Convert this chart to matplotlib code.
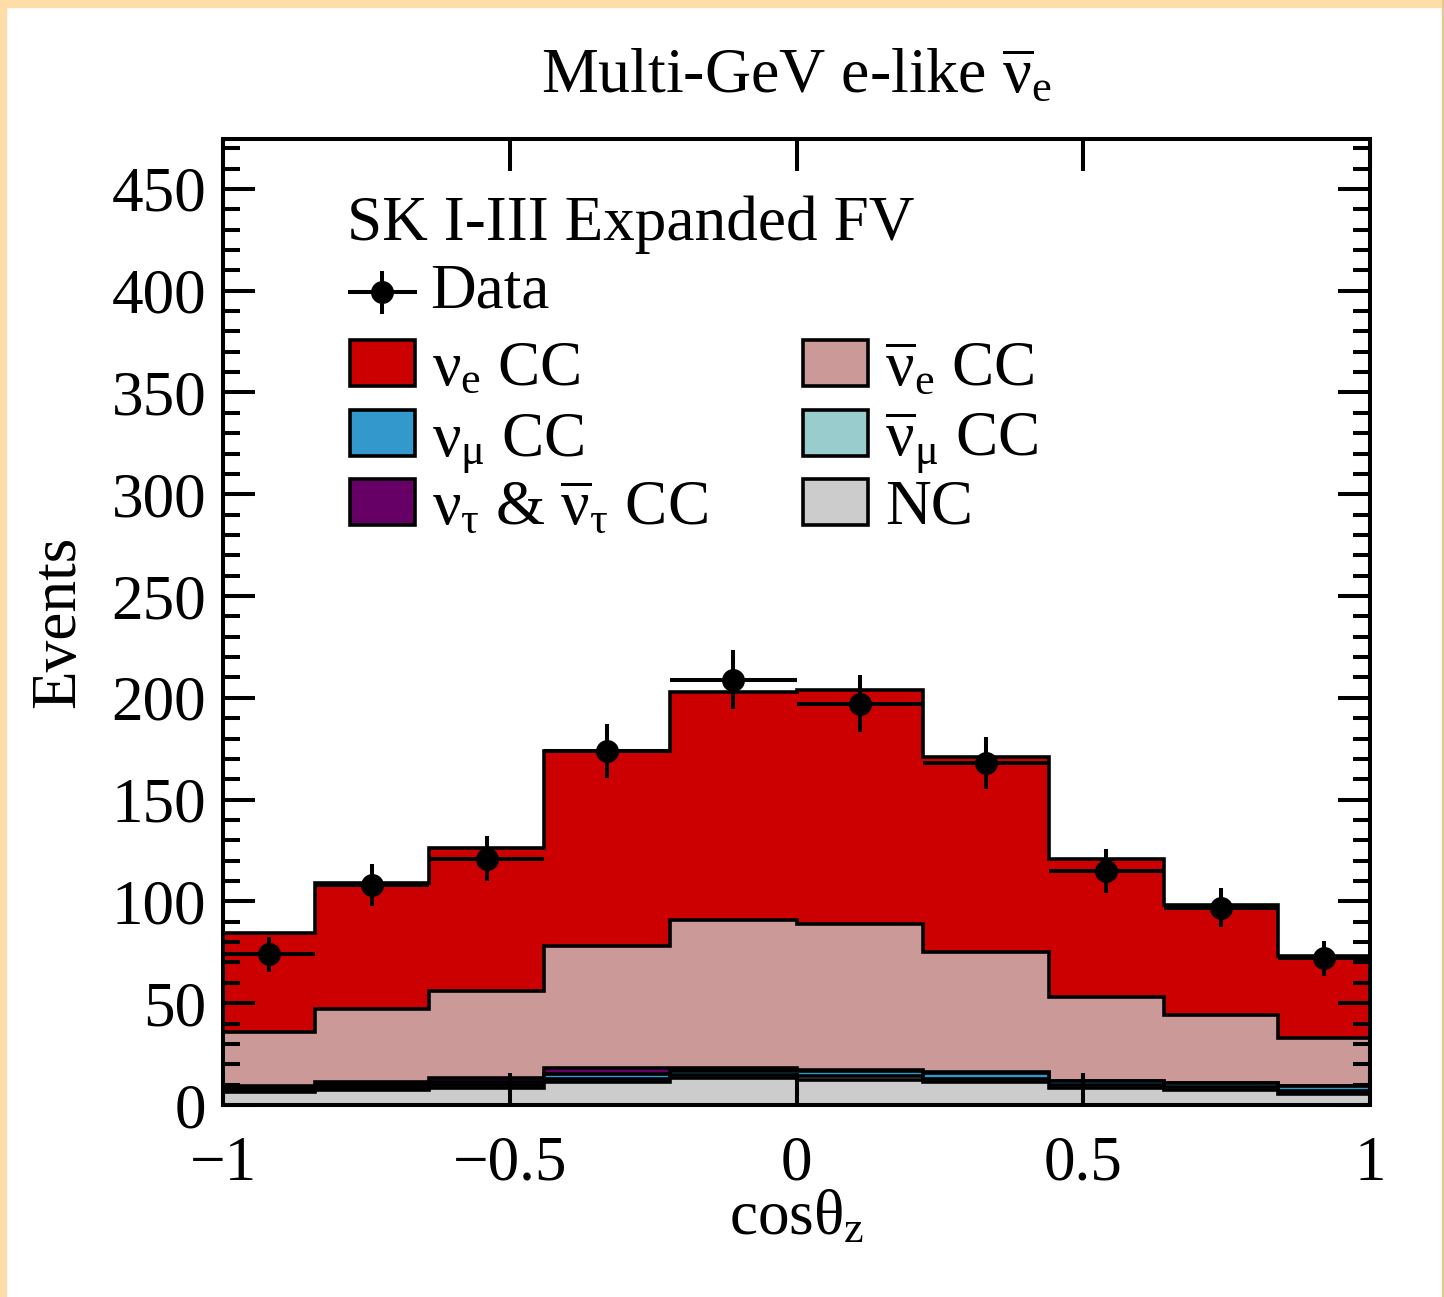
import matplotlib
matplotlib.use("Agg")
import matplotlib.pyplot as plt
import numpy as np
from matplotlib.patches import Rectangle
from matplotlib.lines import Line2D

plt.rcParams['font.family'] = ['Liberation Serif', 'DejaVu Serif']
plt.rcParams['mathtext.fontset'] = 'custom'
plt.rcParams['mathtext.rm'] = 'Liberation Serif'
plt.rcParams['mathtext.it'] = 'Liberation Serif'
plt.rcParams['mathtext.bf'] = 'Liberation Serif:bold'

# ---------------- data ----------------
bin_edges = [-1.0, -0.84, -0.64, -0.44, -0.22, 0.0, 0.22, 0.44, 0.64, 0.84, 1.0]
nc       = [6.5, 7.5, 8.5, 11.5, 13.5, 12.5, 11.5, 8.5, 7.5, 5.5]
numubar  = [0.8, 1.0, 1.2, 1.3, 1.2, 1.5, 1.5, 1.3, 1.4, 1.5]
numu     = [1.2, 1.5, 1.8, 2.2, 1.8, 2.5, 2.7, 2.0, 2.0, 2.4]
nutau    = [1.0, 1.5, 2.0, 3.0, 1.5, 0.5, 0.3, 0.2, 0.1, 0.1]
nuebar   = [26.5, 35.5, 42.5, 60.0, 73.0, 72.0, 59.0, 41.0, 33.0, 23.5]
nue      = [48.5, 62.0, 70.0, 96.0, 112.0, 115.0, 96.0, 68.0, 54.0, 40.0]
data_x   = [-0.92, -0.74, -0.54, -0.33, -0.11, 0.11, 0.33, 0.54, 0.74, 0.92]
data_y   = [74, 108, 121, 174, 209, 197, 168, 115, 97, 72]
data_err = [8.6, 10.4, 11.0, 13.2, 14.5, 14.0, 13.0, 10.7, 9.8, 8.5]

x_ticks = [-1, -0.5, 0, 0.5, 1]
x_ticklabels = ['\u22121', '\u22120.5', '0', '0.5', '1']
y_ticks = [0, 50, 100, 150, 200, 250, 300, 350, 400, 450]

title = r'Multi-GeV e-like $\overline{\nu}_{e}$'
x_label = r'cos$\theta_{z}$'
y_label = 'Events'
header = 'SK I-III Expanded FV'

layers = [  # bottom to top
    ('NC', nc, '#CCCCCC'),
    (r'$\overline{\nu}_{\mu}$ CC', numubar, '#99CCCC'),
    (r'$\nu_{\mu}$ CC', numu, '#3399CC'),
    (r'$\nu_{\tau}$ & $\overline{\nu}_{\tau}$ CC', nutau, '#660066'),
    (r'$\overline{\nu}_{e}$ CC', nuebar, '#CC9999'),
    (r'$\nu_{e}$ CC', nue, '#CC0000'),
]

FS = 45.5

W, H = 1444, 1297
fig = plt.figure(figsize=(W / 100, H / 100), dpi=100)
fig.patch.set_facecolor('white')

# page border
fig.patches.append(Rectangle((0, 0), 6 / W, 1, transform=fig.transFigure, color='#FFDDA8', zorder=0))
fig.patches.append(Rectangle((0, 1 - 7 / H), 1, 7 / H, transform=fig.transFigure, color='#FFDDA8', zorder=0))
fig.patches.append(Rectangle((1 - 2 / W, 0), 2 / W, 1, transform=fig.transFigure, color='#E6C98E', zorder=0))

ax_l, ax_r, ax_t, ax_b = 223, 1370, 139, 1105
ax = fig.add_axes([ax_l / W, 1 - ax_b / H, (ax_r - ax_l) / W, (ax_b - ax_t) / H])

edges = np.array(bin_edges)
cum = np.zeros(len(nc))
cums = []
for name, vals, col in layers:
    cum = cum + np.array(vals)
    cums.append((name, cum.copy(), col))

LW = 2.6
for i, (name, c, col) in enumerate(reversed(cums)):
    z = 1 + i * 0.01
    ax.stairs(c, edges, fill=True, color=col, baseline=0, zorder=z, linewidth=0)
    ax.stairs(c, edges, fill=False, color='black', baseline=None, linewidth=LW, zorder=z + 0.005)

xerr = [(b - a) / 2 for a, b in zip(bin_edges[:-1], bin_edges[1:])]
ax.errorbar(data_x, data_y, xerr=xerr, yerr=data_err, fmt='o', color='black',
            markersize=15.5, elinewidth=2.9, capsize=0, zorder=5)

ax.set_xlim(-1, 1)
ax.set_ylim(0, 474.5)
ax.set_xticks(x_ticks)
ax.set_xticklabels(x_ticklabels)
ax.set_yticks(y_ticks)
ax.set_yticks(np.arange(0, 475, 10), minor=True)
ax.tick_params(axis='both', which='major', direction='in', length=23, width=2.9,
               top=True, right=True, labelsize=FS)
ax.tick_params(axis='y', which='minor', direction='in', length=12, width=2.9,
               left=True, right=True)
ax.tick_params(axis='y', which='major', pad=12)
ax.tick_params(axis='x', which='major', pad=22)
for s in ax.spines.values():
    s.set_linewidth(2.9)
    s.set_zorder(6)

ax.set_xlabel(x_label, fontsize=FS)
ax.xaxis.set_label_coords(0.5, (ax_b - 1190) / (ax_b - ax_t))
ax.set_ylabel(y_label, fontsize=FS)
ax.yaxis.set_label_coords((88 - ax_l) / (ax_r - ax_l), 0.5)
ax.set_title(title, fontsize=FS + 0.5, y=(ax_b - 92) / (ax_b - ax_t), va='baseline', pad=0)

# ---- legend (drawn by hand to match layout) ----
def ax_xy(px, py):
    return ((px - ax_l) / (ax_r - ax_l), (ax_b - py) / (ax_b - ax_t))

tx, ty = ax_xy(347, 240)
ax.text(tx, ty, header, transform=ax.transAxes, fontsize=FS, va='baseline', ha='left', zorder=7)

# data entry
mx, my = ax_xy(382, 292)
x0, _ = ax_xy(350, 292)
x1, _ = ax_xy(415, 292)
_, y0 = ax_xy(382, 273)
_, y1 = ax_xy(382, 312)
ax.add_line(Line2D([x0, x1], [my, my], transform=ax.transAxes, color='black', lw=2.9, zorder=7))
ax.add_line(Line2D([mx, mx], [y0, y1], transform=ax.transAxes, color='black', lw=2.9, zorder=7))
ax.add_line(Line2D([mx], [my], transform=ax.transAxes, marker='o', markersize=15.5, color='black', zorder=7))
dtx, dty = ax_xy(430, 308)
ax.text(dtx, dty, 'Data', transform=ax.transAxes, fontsize=FS, va='baseline', ha='left', zorder=7)

legend_order = [5, 4, 2, 1, 3, 0]  # row-wise: nue, nuebar, numu, numubar, nutau, NC
rows_top = [340, 410, 479]
cols_left = [350, 803]
pw, ph = 65, 46
for k, li in enumerate(legend_order):
    name, vals, col = layers[li]
    r, cidx = divmod(k, 2)
    px, py = cols_left[cidx], rows_top[r]
    (ax0, ay1) = ax_xy(px, py)
    (ax1, ay0) = ax_xy(px + pw, py + ph)
    ax.add_patch(Rectangle((ax0, ay0), ax1 - ax0, ay1 - ay0, transform=ax.transAxes,
                           facecolor=col, edgecolor='black', linewidth=2.6, zorder=7))
    ltx, lty = ax_xy(px + 82, py + ph - 1)
    ax.text(ltx, lty, name, transform=ax.transAxes, fontsize=FS, va='baseline', ha='left', zorder=7)

fig.savefig('out.png', dpi=100, facecolor=fig.get_facecolor())
